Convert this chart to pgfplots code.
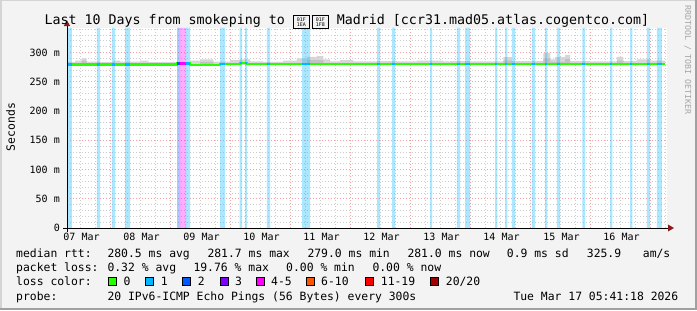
\documentclass[border=0pt]{standalone}
\usepackage{fontspec}
\setmainfont{DejaVu Sans Mono}
\setmonofont{DejaVu Sans Mono}
\usepackage{pgfplots}
\pgfplotsset{compat=1.18}
\definecolor{bg}{HTML}{F3F3F3}
\definecolor{shadea}{HTML}{D4D4D4}
\definecolor{shadeb}{HTML}{A0A0A0}
\definecolor{mgrid}{RGB}{240,160,160}
\definecolor{mingrid}{RGB}{205,205,205}
\definecolor{lz}{HTML}{26FF00}
\definecolor{la}{HTML}{00B8FF}
\definecolor{lb}{HTML}{0059FF}
\definecolor{lc}{HTML}{7E00FF}
\definecolor{ld}{HTML}{FF00FF}
\definecolor{le}{HTML}{FF5500}
\definecolor{lf}{HTML}{FF0000}
\definecolor{lg}{HTML}{A10000}
\definecolor{smoke}{HTML}{D6D6D6}
\definecolor{smokedark}{HTML}{C2C2C2}
\definecolor{arrowred}{HTML}{8B1A1A}
\newcommand{\lsize}{\fontsize{11.4bp}{13bp}\selectfont}
\newcommand{\tofu}[2]{\raisebox{-1.5bp}{\setlength{\fboxsep}{0pt}\setlength{\fboxrule}{0.9bp}\fbox{\parbox[c][11.5bp][c]{15.5bp}{\centering\fontsize{5bp}{5.4bp}\selectfont #1\\#2}}}}
\begin{document}
\begin{tikzpicture}[x=1bp,y=1bp]
\useasboundingbox (0,0) rectangle (697,310);
\fill[bg] (0,0) rectangle (697,310);
\fill[shadea] (0,0) rectangle (1.5,310);
\fill[shadea] (0,308.5) rectangle (697,310);
\fill[shadeb] (694.5,0) rectangle (697,310);
\fill[shadeb] (0,0) rectangle (697,2.5);
\begin{axis}[
  at={(67bp,82bp)}, anchor=south west,
  scale only axis, width=600bp, height=200bp,
  xmin=0, xmax=240, ymin=0, ymax=342,
  axis background/.style={fill=white},
  axis line style={draw=none},
  major tick length=0pt, minor tick length=0pt,
  xtick={17.5,41.5,65.5,89.5,113.5,137.5,161.5,185.5,209.5,233.5},
  xticklabels={},
  minor xtick={5.5,11.5,23.5,29.5,35.5,47.5,53.5,59.5,71.5,77.5,83.5,95.5,101.5,107.5,119.5,125.5,131.5,143.5,149.5,155.5,167.5,173.5,179.5,191.5,197.5,203.5,215.5,221.5,227.5,239.5},
  extra x ticks={5.8,29.8,53.8,77.8,101.8,125.8,149.8,173.8,197.8,221.8},
  extra x tick labels={07 Mar,08 Mar,09 Mar,10 Mar,11 Mar,12 Mar,13 Mar,14 Mar,15 Mar,16 Mar},
  extra x tick style={grid=none},
  ytick={0,50,100,150,200,250,300},
  yticklabels={0,50 m,100 m,150 m,200 m,250 m,300 m},
  minor ytick={10,20,30,40,60,70,80,90,110,120,130,140,160,170,180,190,210,220,230,240,260,270,280,290,310,320,330,340},
  grid=both,
  major grid style={mgrid, dash pattern=on 1bp off 2bp, line width=0.8bp},
  minor grid style={mingrid, dash pattern=on 1bp off 2bp, line width=0.8bp},
  tick label style={font=\fontsize{10bp}{12bp}\selectfont, inner sep=0pt, text=black},
  xticklabel style={anchor=base, yshift=-12.5bp},
  yticklabel style={anchor=east, xshift=-7bp},
  /pgf/number format/assume math mode=true,
  clip=true,
]
% smoke (closed along the 279 base by the fill)
\addplot[const plot, draw=none, fill=smoke] coordinates {
(0,279)(0,283.5)(3.2,286)(5.8,290)(7.8,284.4)(13.2,283.5)(18.5,286)(21.2,284.5)(29.2,286)(32.5,283.5)(49.2,286)(53.2,288.5)(58.5,284.5)(65.2,287)(69.2,288.5)(73.2,285)(78.5,284)(86.5,286)(91.9,290)(95.9,292.6)(99.9,294)(102.5,288.5)(105.2,285)(109.2,287)(114.5,285)(123.9,285.5)(131.9,285)(139.9,286)(150.5,285)(153.2,285.5)(161.2,285)(174.5,292)(177.9,285.5)(190.5,299)(193.2,288.5)(195.2,292)(199.2,296)(201.2,285.5)(209.2,285)(219.9,292.5)(222.5,285.5)(227.9,288.5)(233.2,286)(239.2,279)(240,279)};
\addplot[const plot, draw=none, fill=smokedark] coordinates {
(0,279)(5.8,279)(5.8,286)(7.8,279)(53.2,279)(53.2,284)(58.5,279)(95.9,279)(95.9,287)(102.5,279)(174.5,279)(174.5,286)(177.9,279)(190.5,279)(190.5,290)(193.2,284)(199.2,289)(201.2,279)(219.9,279)(219.9,286)(222.5,279)(240,279)};
% loss bands
\addplot[const plot, draw=none, fill=la, fill opacity=0.33] coordinates {
(0,342)(1.9,0)(11.9,342)(13.2,0)(17.9,342)(19.2,0)(23.2,342)(25.2,0)(47.6,342)(49.2,0)(61.2,342)(63.2,0)(69,342)(70,0)(71.2,342)(72,0)(79.9,342)(81.2,0)(94,342)(97.2,0)(124,342)(125.2,0)(130,342)(131.2,0)(145.2,342)(146,0)(155.9,342)(157.2,0)(159.2,342)(161.2,0)(171.2,342)(172.1,0)(175.2,342)(176.1,0)(177.9,342)(179.2,0)(185.9,342)(187.2,0)(191.2,342)(192.1,0)(195.9,342)(197.2,0)(206.1,342)(207.2,0)(217.2,342)(218.1,0)(225.2,342)(226.1,0)(231.9,342)(233.2,0)(235.9,342)(237.9,0)} \closedcycle;
\addplot[const plot, draw=none, fill=lb, fill opacity=0.33] coordinates {(44,342)(45.2,0)} \closedcycle;
\addplot[const plot, draw=none, fill=ld, fill opacity=0.33] coordinates {(45.2,342)(47.6,0)} \closedcycle;
% median
\addplot[const plot, lz, line width=2.3bp] coordinates {
(0,279.8)(44,281.3)(49.2,279.3)(61.2,280.8)(69.2,282.5)(72,281.0)(239.2,281.0)};
\addplot[la, line width=2.3bp, unbounded coords=jump] coordinates {
(0,279.8)(1.9,279.8)(1.9,nan)(11.9,279.8)(13.2,279.8)(13.2,nan)(17.9,279.8)(19.2,279.8)(19.2,nan)(23.2,279.8)(25.2,279.8)(25.2,nan)
(47.6,281.3)(49.2,281.3)(49.2,nan)(61.2,280.8)(63.2,280.8)(63.2,nan)(69.2,282.5)(70,282.5)(70,nan)(71.2,282.5)(72,282.5)(72,nan)
(79.9,281)(81.2,281)(81.2,nan)(94,281)(97.2,281)(97.2,nan)(124,281)(125.2,281)(125.2,nan)(130,281)(131.2,281)(131.2,nan)
(145.2,281)(146,281)(146,nan)(155.9,281)(157.2,281)(157.2,nan)(159.2,281)(161.2,281)(161.2,nan)(171.2,281)(172.1,281)(172.1,nan)
(175.2,281)(176.1,281)(176.1,nan)(177.9,281)(179.2,281)(179.2,nan)(185.9,281)(187.2,281)(187.2,nan)(191.2,281)(192.1,281)(192.1,nan)
(195.9,281)(197.2,281)(197.2,nan)(206.1,281)(207.2,281)(207.2,nan)(217.2,281)(218.1,281)(218.1,nan)(225.2,281)(226.1,281)(226.1,nan)
(231.9,281)(233.2,281)(233.2,nan)(235.9,281)(237.9,281)};
\addplot[lb, line width=2.3bp] coordinates {(44,281.3)(45.2,281.3)};
\addplot[ld, line width=2.3bp] coordinates {(45.2,281.3)(47.6,281.3)};
\end{axis}
% axis lines and arrows
\draw[black, line width=1bp] (63,82) -- (669,82);
\draw[black, line width=1bp] (67,78) -- (67,285);
\fill[arrowred] (668,78.5) -- (674,82) -- (668,85.5) -- cycle;
\fill[arrowred] (63.8,284) -- (67,289.6) -- (70.2,284) -- cycle;
% title
\node[anchor=base west, inner sep=0pt, font=\fontsize{13.3bp}{15bp}\selectfont] at (44.4,286) {Last 10 Days from smokeping to \tofu{01F}{1EA}\hspace{1.5bp}\tofu{01F}{1F8} Madrid [ccr31.mad05.atlas.cogentco.com]};
% side texts
\node[rotate=-90, inner sep=0pt, text=black!35, font=\fontsize{8.3bp}{9bp}\selectfont] at (687.7,250) {RRDTOOL / TOBI OETIKER};
\node[rotate=90, inner sep=0pt, font=\lsize] at (10.5,183) {Seconds};
% legend
\begin{scope}[every node/.style={anchor=base west, inner sep=0pt, font=\lsize}]
\node at (16,52.3) {median rtt:};
\node at (107.3,52.3) {280.5 ms avg};
\node at (207.3,52.3) {281.7 ms max};
\node at (307.3,52.3) {279.0 ms min};
\node at (407.3,52.3) {281.0 ms now};
\node at (506.7,52.3) {0.9 ms sd};
\node at (586.7,52.3) {325.9};
\node at (642.7,52.3) {am/s};
\node at (16,38.2) {packet loss:};
\node at (107.3,38.2) {0.32 \% avg};
\node at (193.3,38.2) {19.76 \% max};
\node at (286,38.2) {0.00 \% min};
\node at (372.3,38.2) {0.00 \% now};
\node at (16,24.1) {loss color:};
\node at (123.3,24.1) {0};
\node at (160.7,24.1) {1};
\node at (197.7,24.1) {2};
\node at (235,24.1) {3};
\node at (271,24.1) {4-5};
\node at (321,24.1) {6-10};
\node at (380.7,24.1) {11-19};
\node at (445.7,24.1) {20/20};
\node at (16,10) {probe:};
\node at (107.3,10) {20 IPv6-ICMP Echo Pings (56 Bytes) every 300s};
\node at (513.3,10) {Tue Mar 17 05:41:18 2026};
\end{scope}
\foreach \xx/\cc in {108.3/lz,145.7/la,182.7/lb,220/lc,256/ld,306/le,365.7/lf,430.7/lg}
  \draw[black, line width=0.9bp, fill=\cc] (\xx,24.6) rectangle ++(8,8);
\end{tikzpicture}
\end{document}
